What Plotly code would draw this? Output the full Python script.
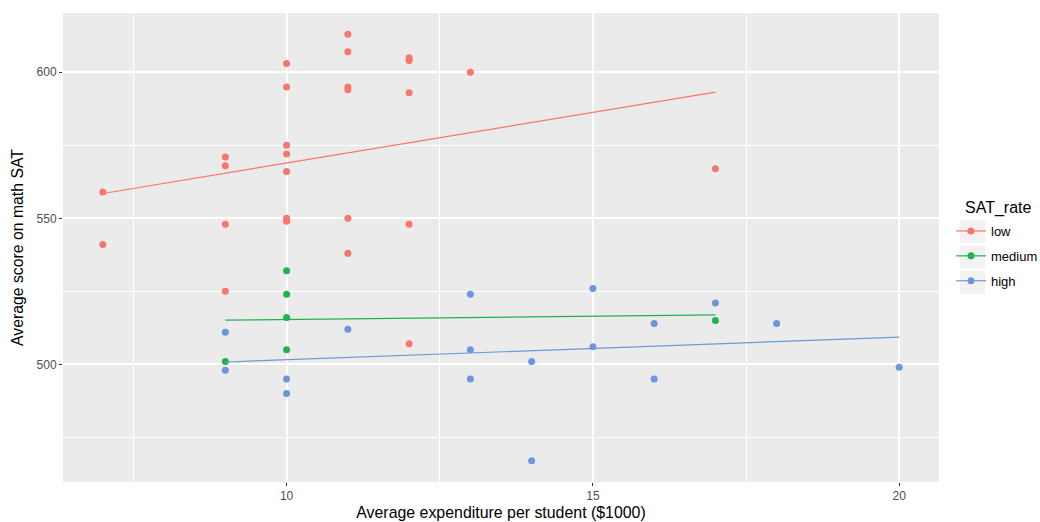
import plotly.graph_objects as go

# ---- data ----
low_x = [7, 7, 9, 9, 9, 9, 10, 10, 10, 10, 10, 10, 10, 11, 11, 11, 11, 11, 11, 12, 12, 12, 12, 12, 13, 17]
low_y = [559, 541, 571, 568, 548, 525, 603, 595, 575, 572, 566, 550, 549, 613, 607, 595, 594, 550, 538, 605, 604, 593, 548, 507, 600, 567]

medium_x = [9, 10, 10, 10, 10, 17]
medium_y = [501, 532, 524, 516, 505, 515]

high_x = [9, 9, 10, 10, 11, 13, 13, 13, 14, 14, 15, 15, 16, 16, 17, 18, 20]
high_y = [511, 498, 495, 490, 512, 524, 505, 495, 501, 467, 526, 506, 514, 495, 521, 514, 499]

# fitted (lm) line end points
low_fit_x = [7, 17]
low_fit_y = [558.5, 593.2]
medium_fit_x = [9, 17]
medium_fit_y = [515.1, 516.9]
high_fit_x = [9, 20]
high_fit_y = [500.8, 509.3]

groups = ["low", "medium", "high"]
colors = {"low": "#F8766D", "medium": "#22B24C", "high": "#6C97DA"}

data = {
    "low": (low_x, low_y, low_fit_x, low_fit_y),
    "medium": (medium_x, medium_y, medium_fit_x, medium_fit_y),
    "high": (high_x, high_y, high_fit_x, high_fit_y),
}

W, H = 1040, 522

fig = go.Figure()
for g in groups:
    x, y, fx, fy = data[g]
    c = colors[g]
    fig.add_trace(go.Scatter(x=x, y=y, mode="markers", name=g, legendgroup=g,
                             showlegend=False,
                             marker=dict(color=c, size=7, line=dict(width=0))))
    fig.add_trace(go.Scatter(x=fx, y=fy, mode="lines", name=g, legendgroup=g,
                             showlegend=False, line=dict(color=c, width=1.2)))
    # legend entry
    fig.add_trace(go.Scatter(x=[None], y=[None], mode="lines+markers", name=g,
                             legendgroup=g, showlegend=True,
                             marker=dict(color=c, size=7), line=dict(color=c, width=1.2)))

axis_common = dict(
    showgrid=True, gridcolor="white", gridwidth=1.5,
    zeroline=False, showline=False, automargin=False,
    ticks="outside", ticklen=3, tickwidth=1, tickcolor="#333333",
    tickfont=dict(family="Liberation Sans, Arial, sans-serif", size=12, color="#4D4D4D"),
)

# grey legend key boxes (ggplot style)
key_shapes = []
for top in (220, 245.5, 271):
    key_shapes.append(dict(type="rect", xref="paper", yref="paper",
                           x0=(960 - 63) / 876, x1=(985 - 63) / 876,
                           y0=(482 - (top + 23)) / 469, y1=(482 - top) / 469,
                           fillcolor="#F2F2F2", line=dict(width=0), layer="below"))

fig.update_layout(
    width=W, height=H,
    margin=dict(l=63, r=101, t=13, b=40, autoexpand=False),
    paper_bgcolor="white", plot_bgcolor="#EBEBEB",
    font=dict(family="Liberation Sans, Arial, sans-serif", color="black"),
    xaxis=dict(range=[6.35, 20.65], tickvals=[10, 15, 20], ticktext=["10", "15", "20"],
               minor=dict(tickvals=[7.5, 12.5, 17.5], showgrid=True, gridcolor="white",
                          gridwidth=0.75, ticks=""),
               title=dict(text="Average expenditure per student ($1000)",
                          font=dict(size=15.9, color="black"), standoff=4),
               **axis_common),
    yaxis=dict(range=[459.7, 620.3], tickvals=[500, 550, 600], ticktext=["500", "550", "600"],
               minor=dict(tickvals=[475, 525, 575], showgrid=True, gridcolor="white",
                          gridwidth=0.75, ticks=""),
               title=dict(text="Average score on math SAT",
                          font=dict(size=15.8, color="black"), standoff=9),
               **axis_common),
    legend=dict(xref="container", yref="container", x=951 / W, y=1 - 216 / H,
                xanchor="left", yanchor="top",
                font=dict(size=13, color="black"),
                bgcolor="rgba(0,0,0,0)", tracegroupgap=5, itemwidth=30),
    annotations=[dict(text="SAT_rate", xref="paper", yref="paper",
                      x=(963 - 63) / 876, y=(482 - 208) / 469, xanchor="left", yanchor="middle",
                      showarrow=False, font=dict(size=16, color="black"))],
    shapes=key_shapes,
)

fig.write_html("out.html", config={"displayModeBar": False},
               post_script="document.body.style.margin='0px';")
